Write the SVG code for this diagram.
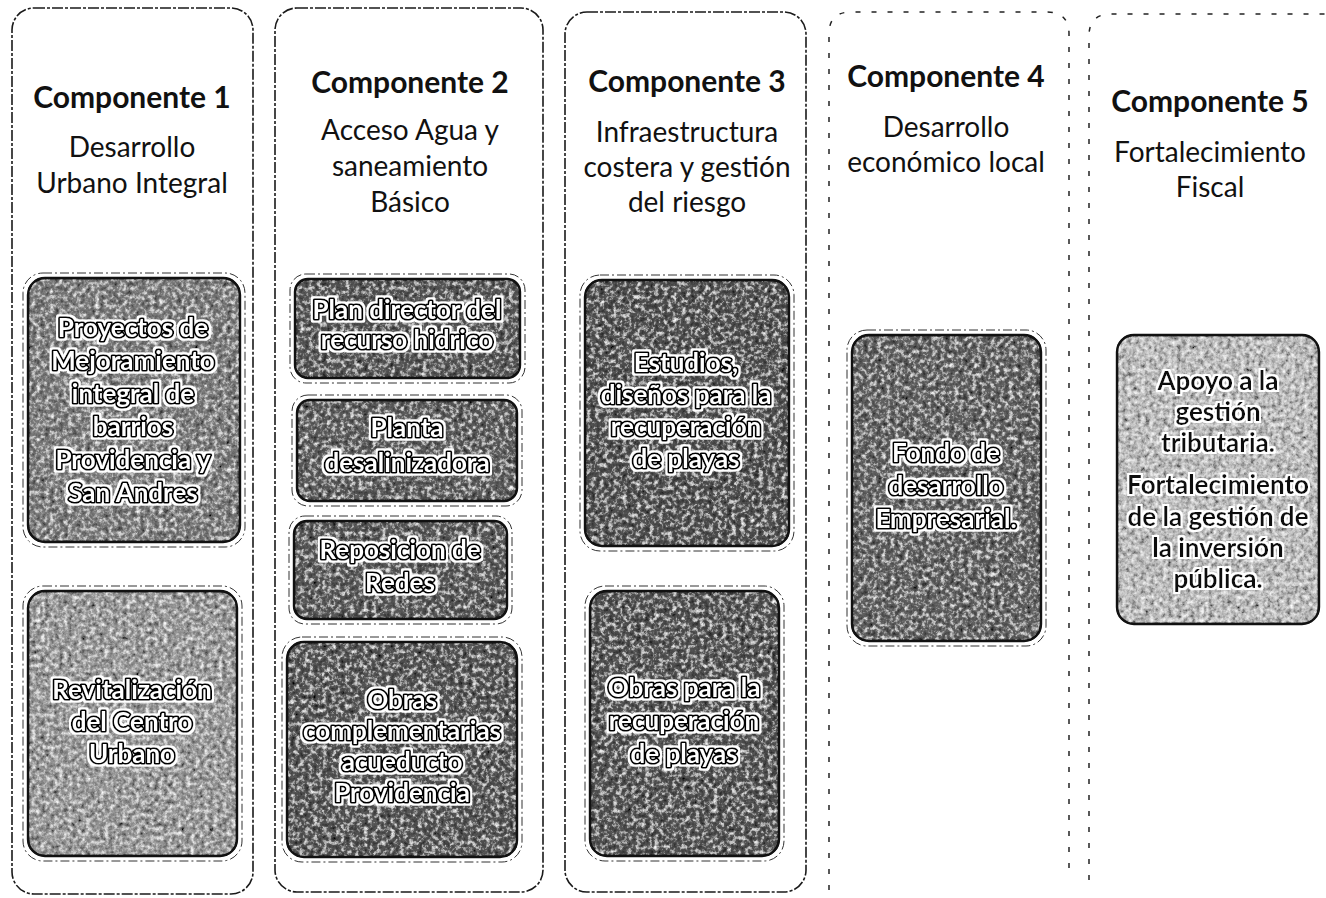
<svg xmlns="http://www.w3.org/2000/svg" width="1326" height="898" viewBox="0 0 1326 898">
<defs>
<filter id="tex" x="0" y="0" width="1" height="1">
<feTurbulence type="fractalNoise" baseFrequency="0.22" numOctaves="4" seed="7" result="t"/>
<feColorMatrix in="t" type="saturate" values="0" result="g"/>
<feComponentTransfer in="g" result="c"><feFuncR type="linear" slope="1.6" intercept="-0.3"/><feFuncG type="linear" slope="1.6" intercept="-0.3"/><feFuncB type="linear" slope="1.6" intercept="-0.3"/><feFuncA type="linear" slope="0" intercept="1"/></feComponentTransfer>
<feBlend in="SourceGraphic" in2="c" mode="overlay" result="m"/>
<feComposite in="m" in2="SourceAlpha" operator="in"/>
</filter>
<filter id="halo" x="-10%" y="-30%" width="120%" height="160%">
<feMorphology in="SourceAlpha" operator="dilate" radius="2" result="d"/>
<feFlood flood-color="#fff"/>
<feComposite in2="d" operator="in" result="w"/>
<feMerge><feMergeNode in="w"/><feMergeNode in="SourceGraphic"/></feMerge>
</filter>
</defs>
<style>
.col{fill:none;stroke:#1a1a1a;stroke-width:1.6;stroke-dasharray:11 2 3 2}
.colf{fill:none;stroke:#222;stroke-width:1.5;stroke-dasharray:5 11}
.h{font-family:Lato,"Liberation Sans",sans-serif;font-weight:700;font-size:30px;fill:#111;text-anchor:middle}
.s{font-family:Lato,"Liberation Sans",sans-serif;font-size:28px;fill:#111;text-anchor:middle}
.bx{stroke:#111;stroke-width:2.4}
.bxo{fill:none;stroke:#333;stroke-width:1;stroke-dasharray:9 3 2 3}
.t{font-family:Lato,"Liberation Sans",sans-serif;font-weight:700;font-size:26px;fill:#fff;stroke:#000;stroke-width:3.6;paint-order:stroke;stroke-linejoin:round;text-anchor:middle;filter:url(#halo)}
.tk{font-family:Lato,"Liberation Sans",sans-serif;font-weight:700;font-size:26px;fill:#111;text-anchor:middle;filter:url(#halo)}
</style>
<rect width="1326" height="898" fill="#fff"/>

<g id="col1">
<rect class="col" x="12" y="8" width="241" height="886" rx="22"/>
<text class="h" x="132" y="108">Componente 1</text>
<text class="s" x="132" y="157">Desarrollo</text>
<text class="s" x="132" y="193">Urbano Integral</text>
</g>
<g id="col2">
<rect class="col" x="275" y="8" width="268" height="884" rx="22"/>
<text class="h" x="410" y="93">Componente 2</text>
<text class="s" x="410" y="140">Acceso Agua y</text>
<text class="s" x="410" y="176">saneamiento</text>
<text class="s" x="410" y="212">Básico</text>
</g>
<g id="col3">
<rect class="col" x="565" y="12" width="241" height="880" rx="22"/>
<text class="h" x="687" y="92">Componente 3</text>
<text class="s" x="687" y="142">Infraestructura</text>
<text class="s" x="687" y="177">costera y gestión</text>
<text class="s" x="687" y="212">del riesgo</text>
</g>
<g id="col4">
<path class="colf" d="M829 890 V34 Q829 12 851 12 H1047 Q1069 12 1069 34 V878"/>
<text class="h" x="946" y="87">Componente 4</text>
<text class="s" x="946" y="137">Desarrollo</text>
<text class="s" x="946" y="172">económico local</text>
</g>
<g id="col5">
<path class="colf" d="M1089 880 V36 Q1089 14 1111 14 H1326"/>
<text class="h" x="1210" y="112">Componente 5</text>
<text class="s" x="1210" y="162">Fortalecimiento</text>
<text class="s" x="1210" y="197">Fiscal</text>
</g>

<g id="c1b1">
<rect class="bxo" x="23" y="273" width="222" height="274" rx="20"/>
<rect class="bx" x="28" y="278" width="212" height="264" rx="17" fill="#7e7e7e" filter="url(#tex)"/>
<rect class="bx" x="28" y="278" width="212" height="264" rx="17" fill="none"/>
<text class="t" x="133" y="337">Proyectos de</text>
<text class="t" x="133" y="370">Mejoramiento</text>
<text class="t" x="133" y="403">integral de</text>
<text class="t" x="133" y="436">barrios</text>
<text class="t" x="133" y="469">Providencia y</text>
<text class="t" x="133" y="502">San Andres</text>
</g>
<g id="c1b2">
<rect class="bxo" x="23" y="586" width="219" height="275" rx="20"/>
<rect class="bx" x="28" y="591" width="209" height="265" rx="17" fill="#9a9a9a" filter="url(#tex)"/>
<rect class="bx" x="28" y="591" width="209" height="265" rx="17" fill="none"/>
<text class="t" x="132" y="699">Revitalización</text>
<text class="t" x="132" y="731">del Centro</text>
<text class="t" x="132" y="763">Urbano</text>
</g>
<g id="c2b1">
<rect class="bxo" x="290" y="274" width="235" height="109" rx="16"/>
<rect class="bx" x="295" y="279" width="225" height="99" rx="13" fill="#5a5a5a" filter="url(#tex)"/>
<rect class="bx" x="295" y="279" width="225" height="99" rx="13" fill="none"/>
<text class="t" x="407" y="319">Plan director del</text>
<text class="t" x="407" y="349">recurso hidrico</text>
</g>
<g id="c2b2">
<rect class="bxo" x="292" y="395" width="230" height="111" rx="16"/>
<rect class="bx" x="297" y="400" width="220" height="101" rx="13" fill="#606060" filter="url(#tex)"/>
<rect class="bx" x="297" y="400" width="220" height="101" rx="13" fill="none"/>
<text class="t" x="407" y="437">Planta</text>
<text class="t" x="407" y="472">desalinizadora</text>
</g>
<g id="c2b3">
<rect class="bxo" x="289" y="516" width="223" height="108" rx="16"/>
<rect class="bx" x="294" y="521" width="213" height="98" rx="13" fill="#5c5c5c" filter="url(#tex)"/>
<rect class="bx" x="294" y="521" width="213" height="98" rx="13" fill="none"/>
<text class="t" x="400" y="559">Reposicion de</text>
<text class="t" x="400" y="592">Redes</text>
</g>
<g id="c2b4">
<rect class="bxo" x="282" y="637" width="240" height="225" rx="20"/>
<rect class="bx" x="287" y="642" width="230" height="215" rx="17" fill="#585858" filter="url(#tex)"/>
<rect class="bx" x="287" y="642" width="230" height="215" rx="17" fill="none"/>
<text class="t" x="402" y="709">Obras</text>
<text class="t" x="402" y="740">complementarias</text>
<text class="t" x="402" y="771">acueducto</text>
<text class="t" x="402" y="802">Providencia</text>
</g>
<g id="c3b1">
<rect class="bxo" x="580" y="275" width="214" height="276" rx="20"/>
<rect class="bx" x="585" y="280" width="204" height="266" rx="17" fill="#545454" filter="url(#tex)"/>
<rect class="bx" x="585" y="280" width="204" height="266" rx="17" fill="none"/>
<text class="t" x="686" y="372">Estudios,</text>
<text class="t" x="686" y="404">diseños para la</text>
<text class="t" x="686" y="436">recuperación</text>
<text class="t" x="686" y="468">de playas</text>
</g>
<g id="c3b2">
<rect class="bxo" x="585" y="586" width="199" height="275" rx="20"/>
<rect class="bx" x="590" y="591" width="189" height="265" rx="17" fill="#565656" filter="url(#tex)"/>
<rect class="bx" x="590" y="591" width="189" height="265" rx="17" fill="none"/>
<text class="t" x="684" y="697">Obras para la</text>
<text class="t" x="684" y="730">recuperación</text>
<text class="t" x="684" y="763">de playas</text>
</g>
<g id="c4b1">
<rect class="bxo" x="847" y="330" width="199" height="316" rx="20"/>
<rect class="bx" x="852" y="335" width="189" height="306" rx="17" fill="#646464" filter="url(#tex)"/>
<rect class="bx" x="852" y="335" width="189" height="306" rx="17" fill="none"/>
<text class="t" x="946" y="462">Fondo de</text>
<text class="t" x="946" y="495">desarrollo</text>
<text class="t" x="946" y="528">Empresarial.</text>
</g>
<g id="c5b1">
<rect class="bx" x="1117" y="335" width="202" height="289" rx="17" fill="#bdbdbd" filter="url(#tex)"/>
<rect class="bx" x="1117" y="335" width="202" height="289" rx="17" fill="none"/>
<text class="tk" x="1218" y="390">Apoyo a la</text>
<text class="tk" x="1218" y="421">gestión</text>
<text class="tk" x="1218" y="452">tributaria.</text>
<text class="tk" x="1218" y="494">Fortalecimiento</text>
<text class="tk" x="1218" y="526">de la gestión de</text>
<text class="tk" x="1218" y="557">la inversión</text>
<text class="tk" x="1218" y="588">pública.</text>
</g>
<g id="connectors"></g>
</svg>
